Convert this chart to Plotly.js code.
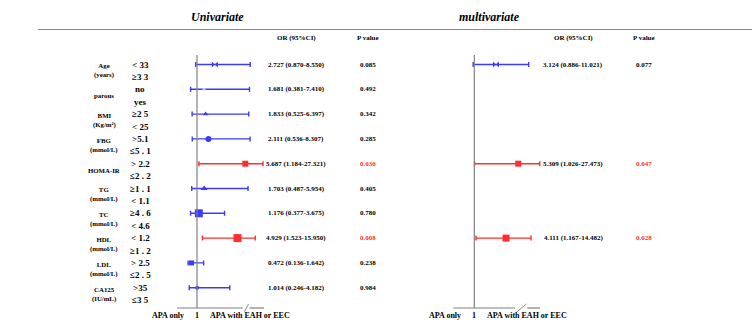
<!DOCTYPE html>
<html><head><meta charset="utf-8">
<script src="https://cdn.plot.ly/plotly-3.0.1.min.js"></script>
<style>html,body{margin:0;padding:0;background:#fff}#chart{width:752px;height:324px}</style>
</head><body><div id="chart"></div>
<script>
// ---- data ----
const variables = ['Age','parous','BMI','FBG','HOMA-IR','TG','TC','HDL','LDL','CA125'];
const units = ['(years)','','(Kg/m²)','(mmol/L)','','(mmol/L)','(mmol/L)','(mmol/L)','(mmol/L)','(IU/mL)'];
const groupA = ['< 33','no','≥2 5','>5.1','> 2.2','≥1 . 1','≥4 . 6','< 1.2','> 2.5','>35'];
const groupB = ['≥3 3','yes','< 25','≤5 . 1','≤2 . 2','< 1.1','< 4.6','≥1 . 2','≤2 . 5','≤3 5'];
const uniOR    = [2.727, 1.681, 1.833, 2.111, 5.687, 1.703, 1.176, 4.929, 0.472, 1.014];
const uniLower = [0.870, 0.381, 0.525, 0.536, 1.184, 0.487, 0.377, 1.523, 0.136, 0.246];
const uniUpper = [8.550, 7.410, 6.397, 8.307, 27.321, 5.954, 3.675, 15.950, 1.642, 4.182];
const uniP     = ['0.085','0.492','0.342','0.285','0.030','0.405','0.780','0.008','0.238','0.984'];
const multiOR    = [3.124, null, null, null, 5.309, null, null, 4.111, null, null];
const multiLower = [0.886, null, null, null, 1.026, null, null, 1.167, null, null];
const multiUpper = [11.021, null, null, null, 27.473, null, null, 14.482, null, null];
const multiP     = ['0.077', null, null, null, '0.047', null, null, '0.028', null, null];
const markerSymbols = ['bowtie','circle','triangle-up','circle','square','triangle-up','square','square','square','circle'];
const markerSizes   = [6, 3, 5, 6, 6, 6, 8, 8, 5, 4];
const leftLabel = 'APA only', rightLabel = 'APA with EAH or EEC';

// ---- styling ----
const BLUE = '#3a3aff', RED = '#ff2e2e', GREY = '#808080';
const SERIF = 'Liberation Serif, Times New Roman, serif';
const W = 752, H = 324;
// broken axis: linear up to 6, compressed beyond
const BRK = 6, K = 0.066;
const tf = v => v <= BRK ? v : BRK + (v - BRK) * K;
const py = p => (H - p) / H; // pixel y -> paper
const px = p => p / W;

const traces = [];
function addRows(ors, los, his, ps, xa) {
  ors.forEach((o, i) => {
    if (o === null) return;
    const sig = parseFloat(ps[i]) < 0.05;
    const c = sig ? RED : BLUE;
    const faint = (i === 1);
    traces.push({
      type: 'scatter', mode: 'markers', xaxis: xa, yaxis: 'y',
      x: [tf(o)], y: [-i], cliponaxis: false, hoverinfo: 'skip',
      marker: {symbol: markerSymbols[i], size: xa === 'x2' && i === 7 ? 7 : markerSizes[i],
               color: faint ? '#c9c9ff' : c, line: {width: 0}},
      error_x: {type: 'data', symmetric: false,
                array: [tf(his[i]) - tf(o)], arrayminus: [tf(o) - tf(los[i])],
                color: c, thickness: 1.4, width: 2.5}
    });
  });
}
addRows(uniOR, uniLower, uniUpper, uniP, 'x');
addRows(multiOR, multiLower, multiUpper, multiP, 'x2');

const ann = [];
const f = (size, color, extra) => Object.assign({family: SERIF, size: size, color: color || '#000', weight: 'bold'}, extra || {});
function txt(text, x, xref, y, yref, font, xanchor, extra) {
  ann.push(Object.assign({text: text, x: x, xref: xref, y: y, yref: yref, showarrow: false,
    xanchor: xanchor || 'center', yanchor: 'middle', font: font, borderpad: 0}, extra || {}));
}
// titles & headers
txt('Univariate', px(217), 'paper', py(17), 'paper', f(12, '#000', {style: 'italic'}));
txt('multivariate', px(489), 'paper', py(17), 'paper', f(12, '#000', {style: 'italic'}));
txt('OR (95%CI)', px(296), 'paper', py(38), 'paper', f(7));
txt('P value', px(368), 'paper', py(38), 'paper', f(7));
txt('OR (95%CI)', px(573), 'paper', py(38), 'paper', f(7));
txt('P value', px(644), 'paper', py(38), 'paper', f(7));
// row labels
variables.forEach((v, i) => {
  const lab = units[i] ? v + '<br>' + units[i] : v;
  txt(lab, px(104), 'paper', -i - 0.26, 'y', f(6.8));
  txt(groupA[i], px(140), 'paper', -i, 'y', f(9));
  txt(groupB[i], px(140), 'paper', -i - 0.5, 'y', f(9));
  const fmt = (o, l, h) => o.toFixed(3) + ' (' + l.toFixed(3) + '-' + h.toFixed(3) + ')';
  const sigU = parseFloat(uniP[i]) < 0.05;
  txt(fmt(uniOR[i], uniLower[i], uniUpper[i]), px(296), 'paper', -i, 'y', f(7));
  txt(uniP[i], px(368), 'paper', -i, 'y', f(7, sigU ? RED : '#000'));
  if (multiOR[i] !== null) {
    const sigM = parseFloat(multiP[i]) < 0.05;
    txt(fmt(multiOR[i], multiLower[i], multiUpper[i]), px(573), 'paper', -i, 'y', f(7));
    txt(multiP[i], px(644), 'paper', -i, 'y', f(7, sigM ? RED : '#000'));
  }
});
// bottom axis labels
['x', 'x2'].forEach(xr => {
  txt(leftLabel, 1, xr, py(315), 'paper', f(8), 'right', {xshift: -12});
  txt('1', 1, xr, py(315), 'paper', f(8));
  txt(rightLabel, 1, xr, py(315), 'paper', f(8), 'left', {xshift: 12});
});

// reference lines, axis lines with break marks
const shapes = [];
const ln = (x0, x1, xref, y0, y1, extra) => shapes.push(Object.assign({type: 'line', x0: x0, x1: x1, xref: xref,
  y0: y0, y1: y1, yref: 'paper', line: {color: GREY, width: 1.2}}, extra || {}));
ln(px(38), px(752), 'paper', py(29.5), py(29.5), {line: {color: '#8a8a8a', width: 1.2}});
const axisDef = {x: {a0: -0.94, b0: 5.45, b1: 6.1, a1: 7.5}, x2: {a0: -1.05, b0: 5.0, b1: 6.2, a1: 7.45}};
['x', 'x2'].forEach(xr => {
  const d = axisDef[xr];
  ln(1, 1, xr, py(55), py(308));
  ln(d.a0, d.b0, xr, py(308), py(308));
  ln(d.b1, d.a1, xr, py(308), py(308));
  ln(d.b0 + 0.15, d.b1 - 0.1, xr, py(312), py(304), {line: {color: GREY, width: 0.9}});
});

const axBase = {showgrid: false, zeroline: false, showticklabels: false, ticks: '', showline: false, fixedrange: true};
const layout = {
  width: W, height: H, margin: {l: 0, r: 0, t: 0, b: 0},
  paper_bgcolor: '#fff', plot_bgcolor: 'rgba(0,0,0,0)', showlegend: false,
  xaxis: Object.assign({}, axBase, {domain: [0, 0.5], range: [1 - 197 / 10.3, 1 + 179 / 10.3]}),
  xaxis2: Object.assign({}, axBase, {domain: [0.5, 1], range: [1 - 98.3 / 10.2, 1 + 277.7 / 10.2], anchor: 'y'}),
  yaxis: Object.assign({}, axBase, {range: [-(H - 64.5) / 24.8, 64.5 / 24.8]}),
  annotations: ann, shapes: shapes
};
Plotly.newPlot('chart', traces, layout, {staticPlot: true, displayModeBar: false});
</script></body></html>
